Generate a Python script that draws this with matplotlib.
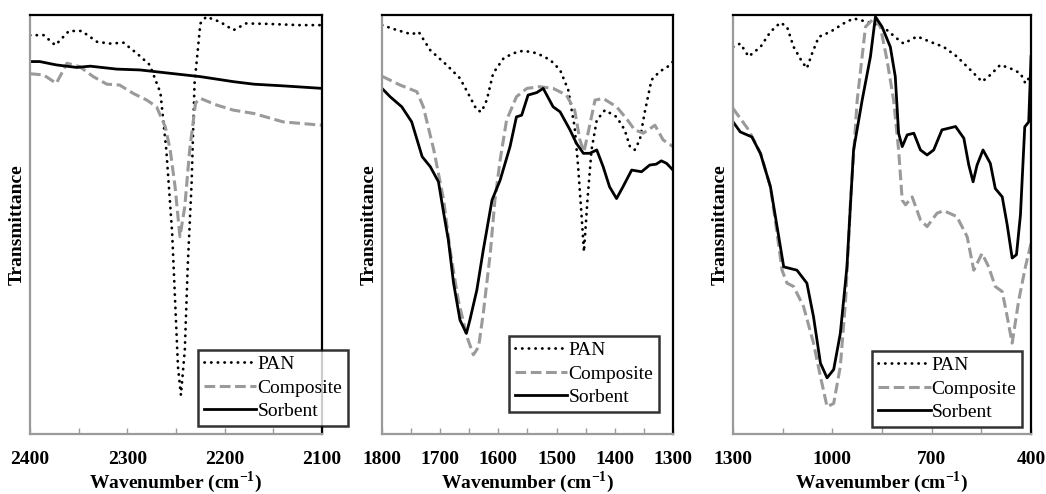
import matplotlib
matplotlib.use("Agg")
import matplotlib.pyplot as plt

plt.rcParams["font.family"] = ["Liberation Serif", "DejaVu Serif"]
plt.rcParams["mathtext.fontset"] = "custom"
plt.rcParams["mathtext.rm"] = "Liberation Serif"
plt.rcParams["mathtext.bf"] = "Liberation Serif:bold"

# panel 1: 2400-2100 cm-1
p1_pan_x = [2400, 2386, 2374, 2360, 2347, 2331, 2318, 2304, 2290, 2277, 2266, 2260, 2254, 2251,
            2248, 2245, 2241, 2238, 2234, 2231, 2225, 2219, 2205, 2191, 2178, 2157, 2123, 2100]
p1_pan_y = [95.2, 95.2, 92.8, 96.2, 96.2, 93.6, 93.2, 93.4, 90.8, 88.1, 81.4, 67.8, 48, 32,
            16, 9.3, 20, 40, 60, 83.7, 98, 99.6, 98.4, 96.4, 98, 97.9, 97.6, 97.6]
p1_comp_x = [2400, 2386, 2373, 2362, 2349, 2335, 2321, 2308, 2294, 2280, 2270, 2261, 2256, 2251,
             2246, 2241, 2236, 2230, 2225, 2208, 2191, 2170, 2140, 2100]
p1_comp_y = [86, 85.7, 83.7, 88.5, 87.7, 85.3, 83.5, 83.3, 81.3, 79.7, 78.1, 73.3, 67.8, 59,
             47.1, 54.3, 67.8, 79, 80.1, 78.5, 77.3, 76.5, 74.5, 73.7]
p1_sorb_x = [2400, 2390, 2373, 2352, 2338, 2311, 2287, 2260, 2225, 2191, 2170, 2140, 2100]
p1_sorb_y = [88.9, 88.9, 88.1, 87.5, 87.8, 87.1, 86.9, 86.2, 85.3, 84.1, 83.5, 83.1, 82.5]
p1_ticks = [2400, 2300, 2200, 2100]
p1_minor = [2350, 2250, 2150]

# panel 2: 1800-1300 cm-1
p2_pan_x = [1800, 1774, 1749, 1737, 1717, 1689, 1666, 1649, 1637, 1629, 1620, 1609, 1591, 1574,
            1557, 1534, 1511, 1494, 1480, 1469, 1463, 1457, 1453, 1447, 1440, 1431, 1417, 1397,
            1383, 1374, 1366, 1357, 1349, 1337, 1323, 1309, 1300]
p2_pan_y = [97.6, 96.4, 95.4, 96, 91.6, 88.1, 84.9, 80.5, 77.3, 76.9, 79.7, 86.1, 89.7, 90.9,
            91.5, 90.9, 89.3, 86.9, 82.1, 73.3, 63.8, 51.9, 43.5, 55.8, 67.8, 74.9, 77.3, 75.7,
            72.6, 68.6, 67.8, 70.2, 76.5, 84.5, 86.5, 87.7, 88.9]
p2_comp_x = [1800, 1769, 1740, 1729, 1711, 1694, 1683, 1669, 1654, 1643, 1634, 1626, 1614, 1606,
             1597, 1586, 1569, 1551, 1529, 1506, 1483, 1469, 1460, 1453, 1446, 1434, 1420, 1397,
             1380, 1366, 1351, 1331, 1317, 1300]
p2_comp_y = [85.4, 83.3, 81.7, 78.1, 67.8, 55.8, 43.9, 32, 23.2, 18.9, 20.8, 28.8, 43.1, 55.8,
             65.4, 74.9, 80.5, 82.5, 82.9, 82.5, 80.9, 77.3, 70.2, 67.4, 71.8, 79.7, 80.1, 78.1,
             75.3, 72.6, 71.8, 73.7, 70.2, 68.6]
p2_sorb_x = [1800, 1786, 1766, 1749, 1731, 1717, 1703, 1694, 1686, 1677, 1666, 1655, 1649, 1637,
             1626, 1611, 1597, 1580, 1569, 1560, 1549, 1534, 1523, 1506, 1494, 1477, 1466, 1454,
             1443, 1431, 1420, 1409, 1397, 1386, 1371, 1354, 1340, 1329, 1320, 1311, 1300]
p2_sorb_y = [82.5, 80.5, 78.1, 74.5, 66.2, 63.8, 60.2, 52.7, 46.3, 36, 27.2, 24, 27.2, 34.4,
             43.9, 55.8, 60.6, 68.6, 75.7, 76.1, 80.9, 81.5, 82.5, 78.1, 76.9, 72.6, 69.4, 67,
             67, 67.8, 63.8, 59, 56.2, 59, 63, 62.6, 64.2, 64.4, 65.2, 64.6, 63]
p2_ticks = [1800, 1700, 1600, 1500, 1400, 1300]
p2_minor = [1750, 1650, 1550, 1450, 1350]

# panel 3: 1300-400 cm-1
p3_pan_x = [1300, 1278, 1253, 1217, 1187, 1157, 1137, 1117, 1092, 1077, 1061, 1041, 1006, 966,
            936, 906, 875, 835, 805, 785, 744, 704, 664, 624, 583, 548, 523, 493, 463, 432,
            417, 407, 400]
p3_pan_y = [92.4, 93.2, 90.1, 92.4, 96, 98.2, 97.2, 92.4, 88.9, 87.3, 90.9, 94.8, 96, 98,
            99.2, 98.6, 98, 96.4, 94.4, 93.2, 94.9, 93.6, 92.4, 90.1, 86.9, 84.1, 85.7, 88.1,
            87.3, 86.1, 83.7, 84.9, 86.0]
p3_comp_x = [1300, 1253, 1217, 1187, 1167, 1152, 1137, 1117, 1087, 1057, 1036, 1016, 996, 976,
             960, 945, 925, 900, 875, 855, 835, 815, 800, 789, 779, 759, 734, 714, 684, 664,
             624, 593, 573, 548, 528, 508, 487, 472, 457, 437, 417, 400]
p3_comp_y = [77.7, 72.6, 67, 59, 47.9, 39.1, 36, 35.2, 30.4, 21.7, 13.7, 6.5, 7.3, 16.1,
             32, 55.8, 79.7, 97.2, 99.2, 97.2, 89.3, 79.7, 67.8, 55.8, 54.7, 56.6, 51.1, 49.5,
             52.7, 53.3, 51.9, 47.1, 39.1, 43.1, 39.9, 35.2, 34, 28, 21.7, 32, 39.9, 45.5]
p3_sorb_x = [1300, 1278, 1243, 1217, 1187, 1167, 1147, 1127, 1107, 1077, 1057, 1036, 1016, 996,
             976, 956, 936, 910, 885, 870, 850, 825, 810, 800, 789, 774, 754, 734, 714, 694,
             669, 648, 628, 603, 588, 575, 563, 545, 523, 508, 487, 472, 457, 444, 432, 419,
             407, 400]
p3_sorb_y = [74.5, 72.1, 70.9, 66.9, 59, 49.5, 39.9, 39.5, 39.1, 36, 28, 16.9, 13.4, 15.4,
             24, 39.9, 67.8, 79.7, 90.1, 99.6, 97.2, 92.4, 85.3, 71.8, 68.6, 71.4, 71.8, 67.8,
             66.6, 67.8, 72.6, 73, 73.4, 70.6, 64.2, 60.2, 64.2, 67.8, 64.6, 58.6, 56.6, 49.9,
             42, 42.8, 52.3, 73.3, 74.5, 90.1]
p3_ticks = [1300, 1000, 700, 400]
p3_minor = [1150, 850, 550]

series_labels = ["PAN", "Composite", "Sorbent"]

panels = [
    {"xlim": (2400, 2100), "ticks": p1_ticks, "minor": p1_minor,
     "data": [(p1_pan_x, p1_pan_y), (p1_comp_x, p1_comp_y), (p1_sorb_x, p1_sorb_y)],
     "rect": [0.0287, 0.1215, 0.2792, 0.848], "leg": (1.089, 0.019)},
    {"xlim": (1800, 1300), "ticks": p2_ticks, "minor": p2_minor,
     "data": [(p2_pan_x, p2_pan_y), (p2_comp_x, p2_comp_y), (p2_sorb_x, p2_sorb_y)],
     "rect": [0.3652, 0.1215, 0.2782, 0.848], "leg": (0.952, 0.0525)},
    {"xlim": (1300, 400), "ticks": p3_ticks, "minor": p3_minor,
     "data": [(p3_pan_x, p3_pan_y), (p3_comp_x, p3_comp_y), (p3_sorb_x, p3_sorb_y)],
     "rect": [0.7008, 0.1215, 0.2849, 0.848], "leg": (0.970, 0.0167)},
]

styles = [
    dict(color="black", lw=2.0, linestyle=(0, (0.1, 2.3)), dash_capstyle="round"),
    dict(color="#9a9a9a", lw=2.2, linestyle=(0, (3.5, 1.5))),
    dict(color="black", lw=2.0, linestyle="-"),
]

fig = plt.figure(figsize=(10.46, 4.94), dpi=100)

for panel in panels:
    ax = fig.add_axes(panel["rect"])
    for (xs, ys), style, label in zip(panel["data"], styles, series_labels):
        ax.plot(xs, ys, label=label, **style)
    ax.set_xlim(*panel["xlim"])
    ax.set_ylim(0, 100)
    ax.set_xticks(panel["ticks"])
    ax.set_xticks(panel["minor"], minor=True)
    ax.set_yticks([])
    ax.tick_params(axis="x", which="both", direction="in", length=4, width=1,
                   color="#9a9a9a", pad=12, labelsize=14)
    for lab in ax.get_xticklabels():
        lab.set_fontweight("bold")
    for side in ["top", "right"]:
        ax.spines[side].set_color("black")
        ax.spines[side].set_linewidth(1.6)
    for side in ["left", "bottom"]:
        ax.spines[side].set_color("#9a9a9a")
        ax.spines[side].set_linewidth(1.6)
    ax.set_ylabel("Transmittance", fontsize=14, fontweight="bold", labelpad=3)
    ax.set_xlabel(r"Wavenumber (cm$^{\mathbf{-1}}$)", fontsize=14, fontweight="bold", labelpad=1)
    leg = ax.legend(loc="lower right", bbox_to_anchor=panel["leg"], borderaxespad=0,
                    fontsize=14, frameon=True, fancybox=False, handlelength=2.7,
                    handletextpad=0.05, labelspacing=0.3, borderpad=0.3)
    leg.get_frame().set_edgecolor("black")
    leg.get_frame().set_linewidth(1.8)

fig.savefig("out.png", dpi=100)
